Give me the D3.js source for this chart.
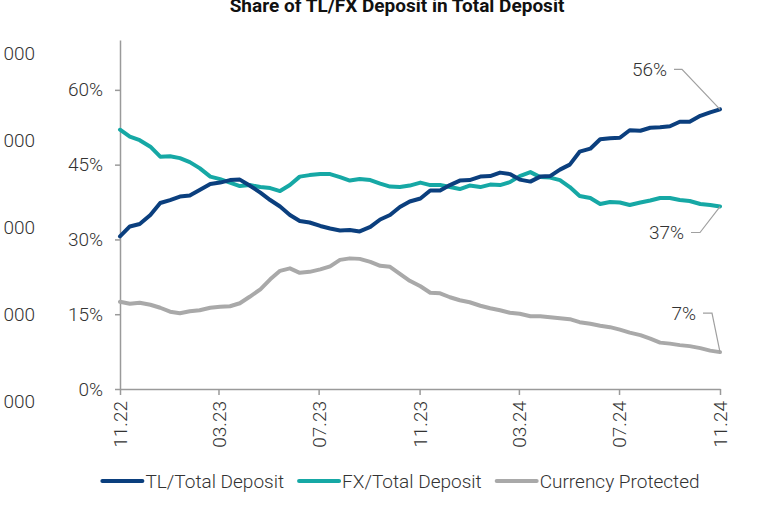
<!DOCTYPE html>
<html>
<head>
<meta charset="utf-8">
<script src="https://cdn.jsdelivr.net/npm/d3@7"></script>
<style>
  html, body { margin: 0; padding: 0; background: #fff; }
  svg { display: block; }
  text { font-family: Roboto, "Liberation Sans", sans-serif; fill: #333; }
</style>
</head>
<body>
<svg id="chart" width="759" height="506"></svg>
<script>
// ---- Data (percent shares, roughly bi-weekly from Nov 2022 to Nov 2024) ----
const startDate = new Date(2022, 10, 1);
const endDate = new Date(2024, 10, 1);
const xTickMonths = [0, 4, 8, 12, 16, 20, 24]; // months after Nov 2022 -> 11.22 ... 11.24
const tlShare = [30.6, 32.6, 33.1, 34.9, 37.3, 37.9, 38.6, 38.8, 39.9, 41.1,
  41.4, 41.9, 42.0, 40.8, 39.4, 37.9, 36.6, 34.9, 33.7, 33.4,
  32.7, 32.2, 31.8, 31.9, 31.6, 32.5, 34.0, 34.9, 36.5, 37.6,
  38.2, 39.8, 39.8, 40.9, 41.8, 41.9, 42.6, 42.7, 43.4, 43.1,
  42.0, 41.6, 42.6, 42.7, 44.0, 45.0, 47.6, 48.2, 50.1, 50.3,
  50.4, 51.9, 51.8, 52.4, 52.5, 52.7, 53.6, 53.6, 54.8, 55.5, 56.1];
const fxShare = [52.0, 50.6, 49.9, 48.6, 46.6, 46.7, 46.3, 45.5, 44.3, 42.6,
  42.1, 41.4, 40.7, 40.9, 40.5, 40.3, 39.7, 40.9, 42.6, 42.9,
  43.1, 43.1, 42.5, 41.8, 42.1, 41.9, 41.2, 40.6, 40.5, 40.8,
  41.4, 40.9, 40.9, 40.5, 40.1, 40.8, 40.5, 41.0, 40.9, 41.5,
  42.7, 43.5, 42.5, 42.4, 41.9, 40.5, 38.7, 38.3, 37.1, 37.5,
  37.4, 36.9, 37.4, 37.8, 38.3, 38.3, 37.9, 37.7, 37.1, 36.9, 36.6];
const cpShare = [17.5, 17.1, 17.3, 16.9, 16.3, 15.5, 15.2, 15.6, 15.8, 16.3,
  16.5, 16.6, 17.2, 18.5, 20.0, 22.0, 23.7, 24.2, 23.3, 23.5,
  24.0, 24.6, 25.9, 26.2, 26.1, 25.5, 24.7, 24.5, 23.1, 21.7,
  20.6, 19.3, 19.2, 18.4, 17.8, 17.4, 16.7, 16.2, 15.8, 15.3,
  15.1, 14.6, 14.6, 14.4, 14.2, 14.0, 13.4, 13.1, 12.7, 12.4,
  11.9, 11.3, 10.8, 10.1, 9.3, 9.1, 8.8, 8.6, 8.2, 7.7, 7.4];
const seriesNames = ["TL/Total Deposit", "FX/Total Deposit", "Currency Protected"];
const seriesColors = ["#0b3f7e", "#16a8a5", "#a9a9a9"];
const endLabels = ["56%", "37%", "7%"];
const yTickValues = [0, 15, 30, 45, 60];
const leftCutLabels = ["000", "000", "000", "000", "000"];
const title = "Share of TL/FX Deposit in Total Deposit";

const nPts = tlShare.length;
const totalDays = d3.timeDay.count(startDate, endDate);
const dates = d3.range(nPts).map(i => d3.timeDay.offset(startDate, Math.round(i * totalDays / (nPts - 1))));
const series = [tlShare, fxShare, cpShare].map((vals, k) => ({
  name: seriesNames[k], color: seriesColors[k], label: endLabels[k],
  values: vals.map((v, i) => ({ date: dates[i], value: v }))
}));

// ---- Layout ----
const svg = d3.select("#chart");
const x = d3.scaleTime().domain([startDate, endDate]).range([120, 720]);
const y = d3.scaleLinear().domain([0, 70]).range([389, 40]);
const axisColor = "#9a9a9a";

// Title (partly cut off at the top, as in the reference)
svg.append("text").attr("x", 397).attr("y", 12).attr("text-anchor", "middle")
  .style("font-weight", "700").style("font-size", "19px").style("fill", "#111")
  .text(title);

// Cropped labels from a neighbouring axis
const cutY = d3.scaleLinear().domain([0, leftCutLabels.length - 1]).range([53, 401]);
svg.append("g").selectAll("text").data(leftCutLabels).join("text")
  .attr("x", 35).attr("y", (d, i) => cutY(i)).attr("dy", "0.36em")
  .attr("text-anchor", "end").style("font-size", "19px").style("font-weight", "300")
  .text(d => d);

// Y axis
const yAxis = d3.axisLeft(y).tickValues(yTickValues).tickFormat(d => d + "%").tickSize(5).tickPadding(12).tickSizeOuter(0);
const gy = svg.append("g").attr("transform", "translate(120,0)").call(yAxis);
gy.select(".domain").attr("stroke", axisColor).attr("stroke-width", 1.5);
gy.selectAll(".tick line").attr("stroke", axisColor).attr("stroke-width", 1.5);
gy.selectAll(".tick text").style("font-size", "19px").style("font-weight", "300")
  .style("font-family", "Roboto, sans-serif").attr("fill", "#333");

// X axis
const xTicks = xTickMonths.map(m => d3.timeMonth.offset(startDate, m));
const xAxis = d3.axisBottom(x).tickValues(xTicks).tickFormat(d3.timeFormat("%m.%y")).tickSize(6).tickSizeOuter(0);
const gx = svg.append("g").attr("transform", "translate(0,389)").call(xAxis);
gx.select(".domain").attr("stroke", axisColor).attr("stroke-width", 1.5);
gx.selectAll(".tick line").attr("stroke", axisColor).attr("stroke-width", 1.5);
gx.selectAll(".tick text")
  .style("font-size", "19px").style("font-weight", "300").style("font-family", "Roboto, sans-serif")
  .attr("fill", "#333")
  .attr("text-anchor", "end")
  .attr("transform", "rotate(-90)")
  .attr("x", -12).attr("y", 0).attr("dy", "0.36em");

// Lines
const line = d3.line().x(d => x(d.date)).y(d => y(d.value)).curve(d3.curveLinear);
[2, 1, 0].forEach(k => {
  svg.append("path").datum(series[k].values)
    .attr("fill", "none").attr("stroke", series[k].color).attr("stroke-width", 4)
    .attr("stroke-linejoin", "round").attr("stroke-linecap", "round")
    .attr("d", line);
});

// End-value annotations with leader lines
const annOffsets = [{ dy: -40, lx: 38, hx: 8 }, { dy: 26, lx: 20, hx: 9 }, { dy: -39, lx: 8, hx: 9 }];
series.forEach((s, k) => {
  const last = s.values[s.values.length - 1];
  const ex = x(last.date), ey = y(last.value);
  const o = annOffsets[k];
  const ly = ey + o.dy;
  const kneeX = ex - o.lx;
  svg.append("path")
    .attr("d", `M${kneeX - o.hx},${ly} L${kneeX},${ly} L${ex},${ey}`)
    .attr("fill", "none").attr("stroke", "#a0a0a0").attr("stroke-width", 1.2);
  svg.append("text").attr("x", kneeX - o.hx - 7).attr("y", ly).attr("dy", "0.36em")
    .attr("text-anchor", "end").style("font-size", "19px").style("font-weight", "300")
    .text(s.label);
});

// Legend
const legend = svg.append("g");
let cx = 0;
series.forEach((s, k) => {
  const g = legend.append("g").attr("transform", `translate(${cx},0)`);
  g.append("line").attr("x1", 2).attr("x2", 42).attr("y1", 0).attr("y2", 0)
    .attr("stroke", s.color).attr("stroke-width", 4).attr("stroke-linecap", "round");
  const t = g.append("text").attr("x", 45).attr("y", 0).attr("dy", "0.36em")
    .style("font-size", "19px").style("font-weight", "300").text(s.name);
  cx += 45 + t.node().getComputedTextLength() + 13;
});
const legendWidth = cx - 13;
legend.attr("transform", `translate(${400 - legendWidth / 2},481)`);
</script>
</body>
</html>
